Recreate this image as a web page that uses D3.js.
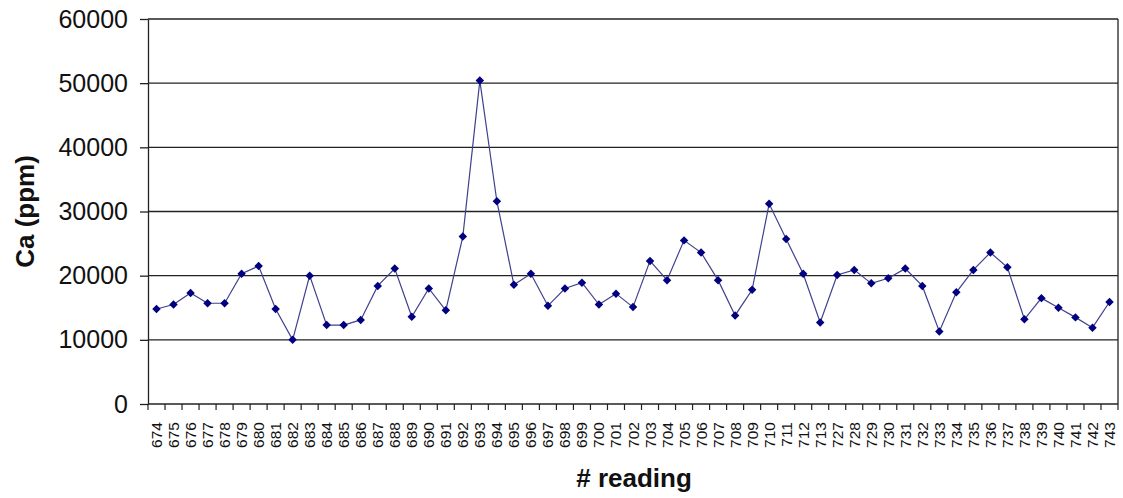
<!DOCTYPE html>
<html>
<head>
<meta charset="utf-8">
<script src="https://cdn.jsdelivr.net/npm/d3@7"></script>
<style>
  body { margin: 0; background: #fff; }
  text { font-family: "Liberation Sans", Arial, sans-serif; }
</style>
</head>
<body>
<svg width="1123" height="498"></svg>
<script>
// Readings (x categories)
const readings = [
    674, 675, 676, 677, 678, 679, 680, 681, 682, 683,
    684, 685, 686, 687, 688, 689, 690, 691, 692, 693,
    694, 695, 696, 697, 698, 699, 700, 701, 702, 703,
    704, 705, 706, 707, 708, 709, 710, 711, 712, 713,
    727, 728, 729, 730, 731, 732, 733, 734, 735, 736,
    737, 738, 739, 740, 741, 742, 743
];

// Ca values (ppm)
const caValues = [
    14800, 15500, 17300, 15700, 15700, 20300, 21500, 14800, 10000, 20000,
    12300, 12300, 13100, 18400, 21100, 13600, 18000, 14600, 26100, 50400,
    31600, 18600, 20300, 15300, 18000, 18900, 15500, 17200, 15100, 22300,
    19300, 25500, 23600, 19300, 13800, 17800, 31200, 25700, 20300, 12700,
    20100, 20900, 18800, 19600, 21100, 18400, 11300, 17400, 20900, 23600,
    21300, 13200, 16500, 15000, 13500, 11900, 15900
];

const yTicks = [0, 10000, 20000, 30000, 40000, 50000, 60000];

const data = readings.map((r, i) => ({ reading: String(r), value: caValues[i] }));

const svg = d3.select("svg");
const margin = { top: 19, right: 5, bottom: 94, left: 148 };
const width = 1118 - margin.left,
    height = 404 - margin.top;

const g = svg.append("g")
    .attr("transform", `translate(${margin.left},${margin.top})`);

const x = d3.scaleBand()
    .domain(data.map(d => d.reading))
    .range([0, width]);

const y = d3.scaleLinear()
    .domain([0, 60000])
    .range([height, 0]);

// Gridlines
g.append("g")
    .selectAll("line")
    .data(yTicks.filter(t => t > 0))
    .enter().append("line")
    .attr("x1", 0)
    .attr("x2", width)
    .attr("y1", d => y(d))
    .attr("y2", d => y(d))
    .attr("stroke", "#222")
    .attr("stroke-width", 1.3);

// Right border
g.append("line")
    .attr("x1", width).attr("x2", width)
    .attr("y1", 0).attr("y2", height)
    .attr("stroke", "#222")
    .attr("stroke-width", 1.3);

// Y axis
const yAxis = g.append("g")
    .call(d3.axisLeft(y).tickValues(yTicks).tickFormat(d3.format("d"))
        .tickSize(8).tickSizeOuter(0).tickPadding(12));
yAxis.selectAll("text")
    .attr("font-size", 25)
    .attr("fill", "#111");
yAxis.selectAll("line, path").attr("stroke", "#222").attr("stroke-width", 1.3);

// X axis: ticks at band edges, labels centred in bands
const xAxisG = g.append("g")
    .attr("transform", `translate(0,${height})`);
xAxisG.append("line")
    .attr("x1", 0).attr("x2", width)
    .attr("stroke", "#222").attr("stroke-width", 1.3);
xAxisG.selectAll(".edge")
    .data(d3.range(readings.length + 1))
    .enter().append("line")
    .attr("class", "edge")
    .attr("x1", i => i * x.step())
    .attr("x2", i => i * x.step())
    .attr("y1", 0)
    .attr("y2", 6)
    .attr("stroke", "#222")
    .attr("stroke-width", 1.2);
xAxisG.selectAll(".lbl")
    .data(data)
    .enter().append("text")
    .attr("class", "lbl")
    .attr("transform", d => `translate(${x(d.reading) + x.bandwidth() / 2 + 5.5},${18}) rotate(-90)`)
    .attr("text-anchor", "end")
    .attr("font-size", 15.5)
    .attr("fill", "#111")
    .text(d => d.reading);

// Line
const line = d3.line()
    .x(d => x(d.reading) + x.bandwidth() / 2)
    .y(d => y(d.value));

g.append("path")
    .datum(data)
    .attr("fill", "none")
    .attr("stroke", "#40408f")
    .attr("stroke-width", 1.2)
    .attr("d", line);

// Diamond markers
g.append("g")
    .selectAll("path")
    .data(data)
    .enter().append("path")
    .attr("transform", d => `translate(${x(d.reading) + x.bandwidth() / 2},${y(d.value)})`)
    .attr("d", d3.symbol().type(d3.symbolDiamond2).size(46))
    .attr("fill", "#000080");

// Axis titles
svg.append("text")
    .attr("transform", `translate(34,${margin.top + height / 2}) rotate(-90)`)
    .attr("text-anchor", "middle")
    .attr("font-size", 26)
    .attr("font-weight", "bold")
    .attr("fill", "#111")
    .text("Ca (ppm)");

svg.append("text")
    .attr("x", 634)
    .attr("y", 487)
    .attr("text-anchor", "middle")
    .attr("font-size", 26)
    .attr("font-weight", "bold")
    .attr("fill", "#111")
    .text("# reading");
</script>
</body>
</html>
